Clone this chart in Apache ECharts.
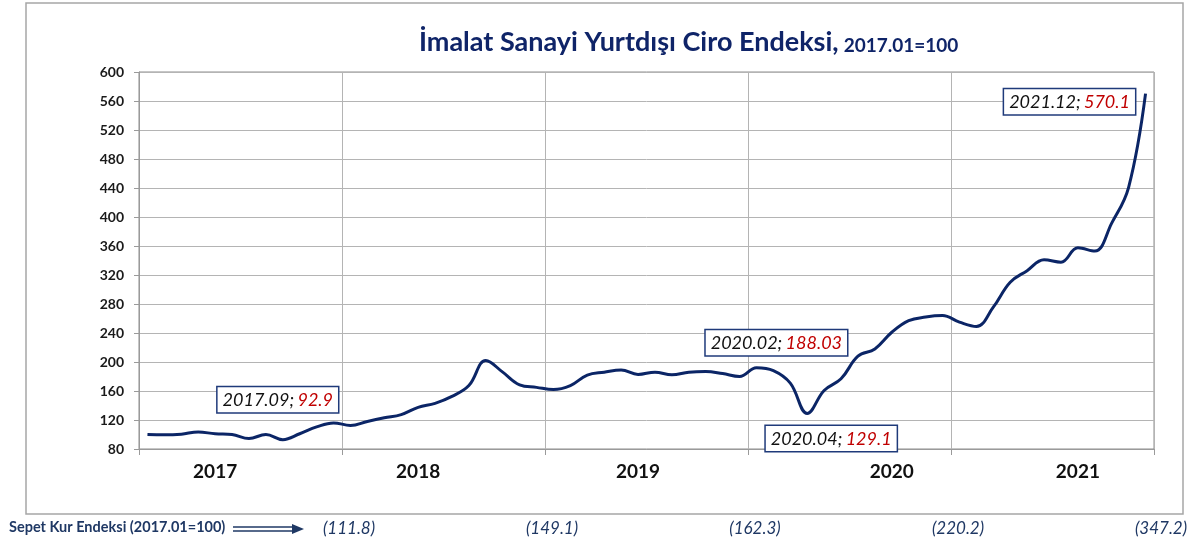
<!DOCTYPE html>
<html>
<head>
<meta charset="utf-8">
<script src="https://cdn.jsdelivr.net/npm/echarts@6/dist/echarts.min.js"></script>
<style>
  html, body { margin: 0; padding: 0; background: #fff; }
  #chart { width: 1195px; height: 543px; }
</style>
</head>
<body>
<div id="chart"></div>
<script>
// months 2017.01 .. 2021.12
var years = ['2017', '2018', '2019', '2020', '2021'];
var months = [];
years.forEach(function (y) {
    for (var m = 1; m <= 12; m++) months.push(y + '.' + (m < 10 ? '0' + m : m));
});

var ciroEndeksi = [
    100, 99.5, 100.5, 103.5, 101, 100, 94.5, 100, 92.9, 101, 110.5, 116,
    112.5, 118, 123, 127.5, 137.5, 143, 152.5, 167.5, 202, 186, 168.5, 165,
    162, 167.5, 182, 186, 189, 182.8, 186, 182.3, 186, 187, 184, 180,
    192, 188.03, 170.8, 129.1, 160.7, 176.8, 208, 218, 241, 257, 262, 264,
    255, 249, 275.6, 310, 326, 341, 337.7, 357.5, 353, 391.5, 441, 570.1
];

// year labels sit under these months
var yearLabelIdx = [4, 16, 29, 44, 55];

// Sepet Kur Endeksi at year ends
var sepetKur = ['111.8', '149.1', '162.3', '220.2', '347.2'];

// annotated points: [month, value, label offset]
var notes = [
    ['2017.09', '92.9', [-5, -40]],
    ['2020.02', '188.03', [3, -28]],
    ['2020.04', '129.1', [24, 25]],
    ['2021.12', '570.1', [-76, 8]]
];

var navy = '#0f2468';
var gridGray = '#b4b4b4';
var font = 'Lato, "Liberation Sans", Arial, sans-serif';

var chart = echarts.init(document.getElementById('chart'));

var option = {
    animation: false,
    backgroundColor: '#fff',
    title: {
        text: '{a|İmalat Sanayi Yurtdışı Ciro Endeksi,} {b|2017.01=100}',
        left: 414,
        top: 24,
        textStyle: {
            rich: {
                a: { fontFamily: font, fontSize: 27, fontWeight: 'bold', color: navy, verticalAlign: 'bottom' },
                b: { fontFamily: font, fontSize: 19, fontWeight: 'bold', color: navy, verticalAlign: 'bottom', padding: [0, 0, 1, 0] }
            }
        }
    },
    grid: {
        left: 139,
        right: 41,
        top: 72,
        bottom: 94,
        show: true,
        borderColor: '#8c8c8c',
        borderWidth: 1
    },
    xAxis: {
        type: 'category',
        data: months,
        boundaryGap: true,
        axisLine: { lineStyle: { color: '#9a9a9a', width: 1 } },
        axisTick: { show: true, interval: 11, length: 6, lineStyle: { color: '#9a9a9a' } },
        splitLine: { show: true, interval: 11, lineStyle: { color: gridGray, width: 1 } },
        axisLabel: {
            interval: function (index) { return yearLabelIdx.indexOf(index) >= 0; },
            formatter: function (v) { return v.slice(0, 4); },
            margin: 13,
            fontFamily: font,
            fontSize: 19,
            fontWeight: 'bold',
            color: '#111'
        }
    },
    yAxis: {
        type: 'value',
        min: 80,
        max: 600,
        interval: 40,
        axisLine: { show: true, lineStyle: { color: '#9a9a9a' } },
        axisTick: { show: true, length: 5, lineStyle: { color: '#9a9a9a' } },
        splitLine: { lineStyle: { color: gridGray, width: 1 } },
        axisLabel: {
            margin: 15,
            fontFamily: font,
            fontSize: 14,
            fontWeight: 'bold',
            color: '#1a1a1a'
        }
    },
    series: [
        {
            name: 'Ciro Endeksi',
            type: 'line',
            data: ciroEndeksi,
            smooth: 0.4,
            showSymbol: false,
            lineStyle: { color: '#0b2566', width: 3 },
            markPoint: {
                symbol: 'circle',
                symbolSize: 1,
                itemStyle: { color: 'rgba(0,0,0,0)' },
                data: notes.map(function (n) {
                    return {
                        coord: [n[0], parseFloat(n[1])],
                        label: {
                            show: true,
                            position: 'inside',
                            offset: n[2],
                            formatter: '{d|' + n[0] + ';} {v|' + n[1] + '}',
                            backgroundColor: '#fff',
                            borderColor: '#1f3a7a',
                            borderWidth: 1.5,
                            padding: [4, 5, 3, 5],
                            rich: {
                                d: { fontFamily: font, fontStyle: 'italic', fontSize: 18, color: '#111' },
                                v: { fontFamily: font, fontStyle: 'italic', fontSize: 18, color: '#c00000' }
                            }
                        }
                    };
                })
            }
        }
    ],
    graphic: [
        {
            type: 'rect',
            shape: { x: 26, y: 3, width: 1157, height: 511 },
            style: { fill: null, stroke: '#a6a6a6', lineWidth: 1.5 },
            z: 0
        },
        {
            type: 'text',
            left: 9,
            top: 520,
            style: { text: 'Sepet Kur Endeksi (2017.01=100)', font: 'bold 14.5px ' + font, fill: '#1f3864' }
        },
        {
            type: 'group',
            children: [
                { type: 'line', shape: { x1: 233, y1: 527, x2: 294, y2: 527 }, style: { stroke: '#1f3864', lineWidth: 1.6 } },
                { type: 'line', shape: { x1: 233, y1: 531, x2: 294, y2: 531 }, style: { stroke: '#1f3864', lineWidth: 1.6 } },
                { type: 'polygon', shape: { points: [[292, 524], [304, 529], [292, 534]] }, style: { fill: '#1f3864' } }
            ]
        }
    ]
};

chart.setOption(option);

// Sepet Kur values just right of each year's end
var p0 = chart.convertToPixel({ xAxisIndex: 0 }, months[0]);
var p1 = chart.convertToPixel({ xAxisIndex: 0 }, months[1]);
var band = p1 - p0;
var kurTexts = sepetKur.map(function (v, k) {
    var xEnd = chart.convertToPixel({ xAxisIndex: 0 }, months[12 * k + 11]) + band / 2;
    return {
        type: 'text',
        id: 'kur' + k,
        x: xEnd + 7,
        y: 529,
        style: {
            text: '(' + v + ')',
            font: 'italic 17px ' + font,
            fill: '#1f3864',
            align: 'center',
            verticalAlign: 'middle'
        }
    };
});
chart.setOption({ graphic: kurTexts });
</script>
</body>
</html>
